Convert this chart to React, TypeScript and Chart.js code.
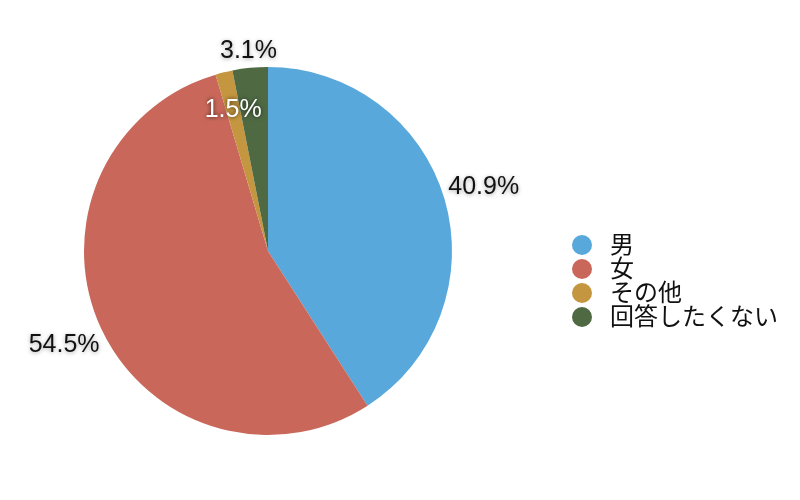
import React, { useEffect, useRef } from 'react';
import { Chart } from 'chart.js/auto';

const labels = ['男', '女', 'その他', '回答したくない'];
const values = [40.9, 54.5, 1.5, 3.1];
const colors = ['#59a8dc', '#c9685a', '#c4963f', '#4f6a43'];

// slices whose percentage sits inside the pie (too thin to fit outside)
const insideLabels = new Set([2]);

const pctLabelPlugin = {
    id: 'pctLabels',
    afterDatasetsDraw(chart: any) {
        const ctx = chart.ctx;
        const meta = chart.getDatasetMeta(0);
        ctx.save();
        ctx.font = '25px "Liberation Sans", Arial, sans-serif';
        ctx.textAlign = 'center';
        ctx.textBaseline = 'middle';
        meta.data.forEach((arc: any, i: number) => {
            const { x, y, startAngle, endAngle, outerRadius } = arc.getProps(['x', 'y', 'startAngle', 'endAngle', 'outerRadius'], true);
            const mid = (startAngle + endAngle) / 2;
            const cos = Math.cos(mid);
            const sin = Math.sin(mid);
            const text = values[i].toFixed(1) + '%';
            let r: number;
            if (insideLabels.has(i)) {
                r = outerRadius * 0.79;
                ctx.fillStyle = '#ffffff';
                ctx.shadowColor = 'rgba(0,0,0,0.7)';
                ctx.shadowBlur = 4;
            } else {
                const halfW = ctx.measureText(text).width / 2;
                r = outerRadius + 4 + Math.abs(cos) * halfW + Math.abs(sin) * 10;
                ctx.fillStyle = '#111111';
                ctx.shadowColor = 'rgba(0,0,0,0.35)';
                ctx.shadowBlur = 4;
                ctx.shadowOffsetY = 1;
            }
            ctx.fillText(text, x + cos * r, y + sin * r);
            ctx.shadowOffsetY = 0;
        });
        ctx.restore();
    }
};

const legendPlugin = {
    id: 'sideLegend',
    afterDraw(chart: any) {
        const ctx = chart.ctx;
        const area = chart.chartArea;
        const cx = area.right + 130;
        const rowH = 24;
        const top = (area.top + area.bottom) / 2 + 30 - (labels.length - 1) * rowH / 2;
        ctx.save();
        ctx.font = '24px "Noto Sans CJK JP", sans-serif';
        ctx.textAlign = 'left';
        ctx.textBaseline = 'middle';
        labels.forEach((lab, i) => {
            const y = top + i * rowH;
            ctx.beginPath();
            ctx.arc(cx, y, 10, 0, Math.PI * 2);
            ctx.fillStyle = colors[i];
            ctx.fill();
            ctx.fillStyle = '#111111';
            ctx.fillText(lab, cx + 28, y - 1);
        });
        ctx.restore();
    }
};

const App: React.FC = () => {
    const chartRef = useRef<HTMLCanvasElement>(null);
    const chartInstance = useRef<Chart | null>(null);

    useEffect(() => {
        document.body.style.margin = '0';
        if (chartRef.current) {
            if (chartInstance.current) {
                chartInstance.current.destroy();
            }
            const ctx = chartRef.current.getContext('2d');
            if (ctx) {
                chartInstance.current = new Chart(ctx, {
                    type: 'pie',
                    data: {
                        labels: labels,
                        datasets: [{
                            data: values,
                            backgroundColor: colors,
                            borderWidth: 0,
                        }]
                    },
                    options: {
                        responsive: true,
                        maintainAspectRatio: false,
                        animation: false,
                        layout: {
                            padding: { left: 84, right: 348, top: 67, bottom: 65 }
                        },
                        plugins: {
                            legend: { display: false },
                            tooltip: { enabled: false }
                        }
                    },
                    plugins: [pctLabelPlugin, legendPlugin]
                });
            }
        }
        return () => {
            if (chartInstance.current) {
                chartInstance.current.destroy();
                chartInstance.current = null;
            }
        };
    }, []);

    return (
        <div style={{ position: 'relative', width: 800, height: 500, background: '#ffffff' }}>
            <canvas ref={chartRef}></canvas>
        </div>
    );
};

export default App;
